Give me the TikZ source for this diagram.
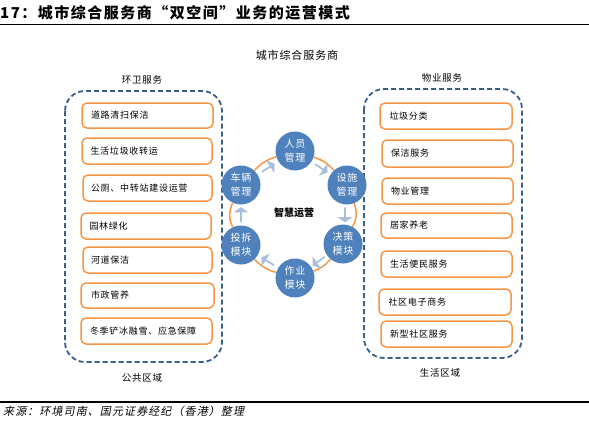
\documentclass[tikz,border=0pt]{standalone}
\usepackage{fontspec}
\setmainfont{Noto Sans CJK SC}
\newfontfamily\srcfont[FakeSlant=0.2,LetterSpace=10]{Noto Sans CJK SC}
\newfontfamily\spfont[LetterSpace=8]{Noto Sans CJK SC}
\newfontfamily\titlefont[LetterSpace=10]{Noto Sans CJK SC}
\usetikzlibrary{shapes.arrows,calc}
\definecolor{cblue}{HTML}{4F81BD}
\definecolor{corange}{HTML}{F79646}
\definecolor{cdash}{HTML}{3A5E8C}
\definecolor{carrow}{HTML}{A9BFDD}
\tikzset{
  obox/.style n args={2}{draw=corange, line width=1.5pt, fill=white, rounded corners=5pt,
    minimum width=#1pt, minimum height=#2pt, text width=113pt, inner xsep=8pt, inner ysep=0pt,
    align=left, font=\spfont\fontsize{9}{11}\selectfont},
  dbox/.style={draw=cdash, line width=1.8pt, dash pattern=on 5pt off 3pt, rounded corners=20pt},
  circ/.style={circle, fill=cblue, minimum size=39pt, inner sep=0pt, text=white, align=center,
    font=\spfont\fontsize{10}{14}\selectfont},
  ring/.style={draw=corange, line width=1.5pt},
  barrow/.style={single arrow, fill=carrow, draw=none, minimum height=15pt, minimum width=15pt,
    single arrow head extend=1.5pt, single arrow tip angle=110, inner sep=0pt},
  lbl/.style={font=\spfont\fontsize{9.5}{11}\selectfont, inner sep=0pt}
}
\begin{document}
\begin{tikzpicture}[x=1pt,y=-1pt]
\useasboundingbox (0,0) rectangle (589,436);
% title and rules
\node[anchor=west, inner sep=0pt, font=\titlefont\bfseries\fontsize{15}{15}\selectfont] (title) at (0,13) {17：城市综合服务商“双空间”业务的运营模式};
\draw[line width=1.6pt] (0,24.5) -- (589,24.5);
\draw[line width=1.6pt] (0,402) -- (589,402);
\node[anchor=west, inner sep=0pt, font=\srcfont\fontsize{11}{11}\selectfont] (src) at (3,411) {来源：环境司南、国元证券经纪（香港）整理};
\node[font=\spfont\fontsize{11}{12}\selectfont, inner sep=0pt] (main) at (297,55) {城市综合服务商};
% dashed regions
\draw[dbox] (65,91) rectangle (222,362);
\draw[dbox] (364,89) rectangle (522,358);
\node[lbl] (lt) at (142,80) {环卫服务};
\node[lbl] (lb) at (142,378) {公共区域};
\node[lbl] (rt) at (442,78) {物业服务};
\node[lbl] (rb) at (440,373) {生活区域};
% left boxes
\node[obox={131}{25}] (l1) at (147.5,115.5) {道路清扫保洁};
\node[obox={130}{26}] (l2) at (147,151) {生活垃圾收转运};
\node[obox={129}{26}] (l3) at (147.5,188) {公厕、中转站建设运营};
\node[obox={130}{26}] (l4) at (146,226) {园林绿化};
\node[obox={129}{26}] (l5) at (147.5,260) {河道保洁};
\node[obox={133}{25}] (l6) at (147.5,295.5) {市政管养};
\node[obox={131}{26}] (l7) at (146.5,331) {冬季铲冰融雪、应急保障};
% right boxes
\node[obox={132}{26}] (r1) at (446,116) {垃圾分类};
\node[obox={131}{27}] (r2) at (447.5,153.5) {保洁服务};
\node[obox={131}{26}] (r3) at (447.5,191) {物业管理};
\node[obox={131}{25}] (r4) at (446.5,225.5) {居家养老};
\node[obox={131}{26}] (r5) at (446.5,264) {生活便民服务};
\node[obox={132}{26}] (r6) at (445,302) {社区电子商务};
\node[obox={131}{26}] (r7) at (446.5,334) {新型社区服务};
% ring of circles
\node[circ] (c1) at (295,151) {人员\\管理};
\node[circ] (c2) at (347,185) {设施\\管理};
\node[circ] (c3) at (343,244) {决策\\模块};
\node[circ] (c4) at (295,278) {作业\\模块};
\node[circ] (c5) at (241,245) {投拆\\模块};
\node[circ] (c6) at (241,185) {车辆\\管理};
\draw[ring] (c1) to[bend left=15] (c2);
\draw[ring] (c2) to[bend left=25] (c3);
\draw[ring] (c3) to[bend left=15] (c4);
\draw[ring] (c4) to[bend left=15] (c5);
\draw[ring] (c5) to[bend left=25] (c6);
\draw[ring] (c6) to[bend left=15] (c1);
\node[barrow, rotate=-33] (a1) at ($(c1)!0.5!(c2)$) {};
\node[barrow, rotate=-90] (a2) at ($(c2)!0.5!(c3)$) {};
\node[barrow, rotate=215] (a3) at ($(c3)!0.5!(c4)$) {};
\node[barrow, rotate=148] (a4) at ($(c4)!0.5!(c5)$) {};
\node[barrow, rotate=90] (a5) at ($(c5)!0.5!(c6)$) {};
\node[barrow, rotate=32] (a6) at ($(c6)!0.5!(c1)$) {};
\node[font=\bfseries\fontsize{10}{12}\selectfont, inner sep=0pt] (core) at (294,213) {智慧运营};
\end{tikzpicture}
\end{document}
